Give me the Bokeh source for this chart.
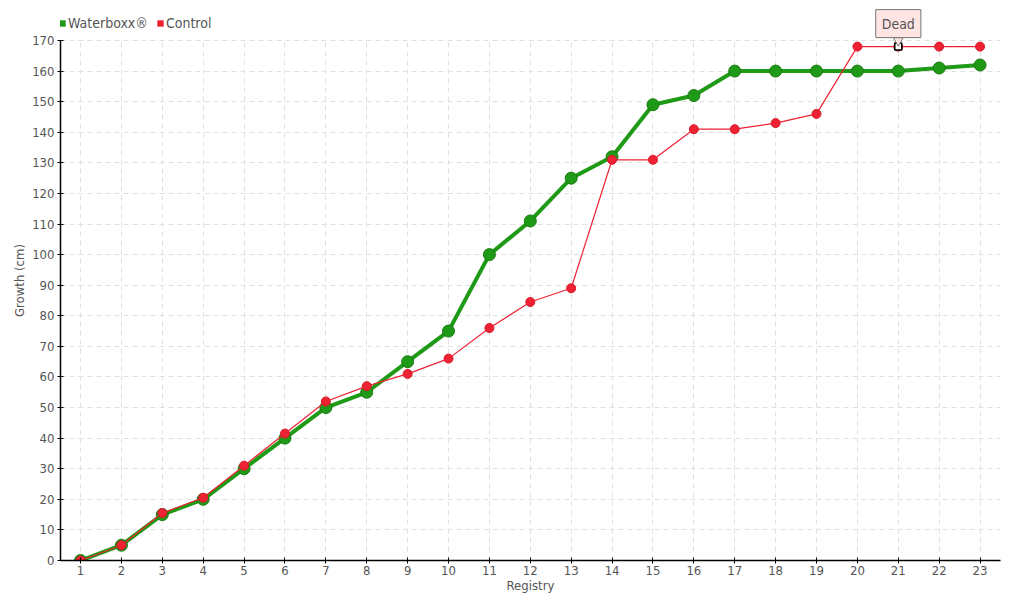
from bokeh.plotting import figure
from bokeh.models import Legend, LegendItem, Label, Range1d, FixedTicker
from bokeh.embed import file_html
from bokeh.resources import INLINE

registry = list(range(1, 24))
waterboxx = [0, 5, 15, 20, 30, 40, 50, 55, 65, 75, 100, 111, 125, 132, 149, 152, 160, 160, 160, 160, 160, 161, 162]
control = [0, 5, 15.5, 20.5, 31, 41.5, 52, 57, 61, 66, 76, 84.5, 89, 131, 131, 141, 141, 143, 146, 168, 168, 168, 168]
y_ticks = list(range(0, 171, 10))
y_max = 170
note_index = 20
note_text = "Dead"

FONT = "DejaVu Sans Condensed"
TXT = "#555555"
GREEN = "#1f9a16"
GREEN_DARK = "#197a12"
RED = "#ee2233"

# frame reaches the top of the figure so the callout and legend are not clipped;
# the axis and grids are bounded to 0..170
p = figure(width=1012, height=596, output_backend="svg", toolbar_location=None,
           x_range=Range1d(0.51, 23.5), y_range=Range1d(0, y_max * 560 / 520),
           min_border_left=60, min_border_right=12, min_border_top=0, min_border_bottom=36)
p.outline_line_color = None
p.background_fill_color = "white"

for g in (p.xgrid, p.ygrid):
    g.grid_line_color = "#e0e0e0"
    g.grid_line_dash = "5 4"
    g.grid_line_width = 1
p.ygrid.bounds = (0, y_max)
try:
    p.xgrid.cross_bounds = (0, y_max)
except Exception:
    pass

p.xaxis.ticker = FixedTicker(ticks=registry)
p.yaxis.ticker = FixedTicker(ticks=y_ticks)
p.yaxis.bounds = (0, y_max)
for ax in (p.xaxis[0], p.yaxis[0]):
    ax.axis_line_color = "black"
    ax.axis_line_width = 1.5
    ax.major_tick_line_color = "black"
    ax.major_tick_in = 3
    ax.major_tick_out = 3
    ax.minor_tick_line_color = None
    ax.major_label_text_font = FONT
    ax.major_label_text_font_size = "13px"
    ax.major_label_text_color = TXT
    ax.axis_label_text_font = FONT
    ax.axis_label_text_font_size = "13px"
    ax.axis_label_text_color = TXT
    ax.axis_label_text_font_style = "normal"
p.xaxis.axis_label = "Registry"
p.yaxis.axis_label = "Growth (cm)"
p.xaxis.major_label_standoff = 2
p.xaxis.axis_label_standoff = 0
p.yaxis.major_label_standoff = 3
p.yaxis.axis_label_standoff = 2

p.line(registry, waterboxx, line_color=GREEN, line_width=4)
p.scatter(registry, waterboxx, size=12, fill_color=GREEN, line_color=GREEN_DARK, line_width=1)
p.line(registry, control, line_color=RED, line_width=1.2)
p.scatter(registry, control, size=9, fill_color=RED, line_color="#d81a2a", line_width=1)

# hovered point marker and callout
p.scatter([registry[note_index]], [control[note_index]], marker="square", size=7,
          fill_color="white", line_color="black", line_width=1.5)
p.scatter([registry[note_index]], [control[note_index] + 2.0], marker="inverted_triangle", size=10,
          fill_color="#ffe4e4", line_color="#777777", line_width=1)
lab = Label(x=registry[note_index], y=control[note_index], text=note_text,
            text_align="center", text_baseline="bottom", y_offset=9,
            text_font=FONT, text_font_size="14px", text_color=TXT,
            background_fill_color="#ffe4e4", border_line_color="#777777",
            border_line_width=1, padding=6)
p.add_layout(lab)

nan = float("nan")
lg1 = p.quad(left=[nan], right=[nan], top=[nan], bottom=[nan], fill_color=GREEN, line_color=None)
lg2 = p.quad(left=[nan], right=[nan], top=[nan], bottom=[nan], fill_color=RED, line_color=None)
legend = Legend(items=[LegendItem(label="Waterboxx®", renderers=[lg1]),
                       LegendItem(label="Control", renderers=[lg2])],
                orientation="horizontal", location=(-2, 529),
                glyph_width=8, glyph_height=8, label_standoff=2, spacing=8,
                padding=0, margin=0, border_line_color=None, background_fill_alpha=0,
                label_text_font=FONT, label_text_font_size="14px", label_text_color=TXT,
                label_height=14)
p.add_layout(legend)

open("out.html", "w").write(file_html(p, INLINE))
